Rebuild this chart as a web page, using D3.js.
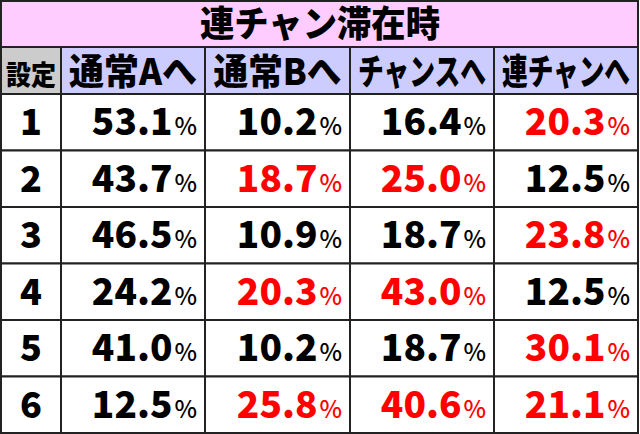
<!DOCTYPE html>
<html><head><meta charset="utf-8">
<script src="https://cdn.jsdelivr.net/npm/d3@7"></script>
<style>body{margin:0;background:#fff}</style>
</head><body>
<svg id="chart" width="640" height="434"></svg>
<script>
var title = "連チャン滞在時";
var headers = ["設定", "通常Aへ", "通常Bへ", "チャンスへ", "連チャンへ"];
var settings = ["1", "2", "3", "4", "5", "6"];
var toA = [53.1, 43.7, 46.5, 24.2, 41.0, 12.5];
var toB = [10.2, 18.7, 10.9, 20.3, 10.2, 25.8];
var toChance = [16.4, 25.0, 18.7, 43.0, 18.7, 40.6];
var toRen = [20.3, 12.5, 23.8, 12.5, 30.1, 21.1];
// which cells are printed in red
var redCells = [
  [0, 0, 0, 1], [0, 1, 1, 0], [0, 0, 0, 1],
  [0, 1, 1, 0], [0, 0, 0, 1], [0, 1, 1, 1]
];

var svg = d3.select("#chart");
var font = "'Noto Sans CJK JP', sans-serif";
var colEdges = [1, 61, 205, 350, 494, 638];
var x = d3.scaleOrdinal().domain(d3.range(5)).range(colEdges.slice(0, 5));
var y = d3.scaleBand().domain(settings).range([94, 433]);
var series = [toA, toB, toChance, toRen];

// title row
svg.append("rect").attr("x", 1).attr("y", 1).attr("width", 637).attr("height", 46)
  .attr("fill", "#ffccff").attr("stroke", "#222").attr("stroke-width", 2);
svg.append("text").attr("x", 320).attr("y", 37).attr("text-anchor", "middle")
  .attr("font-family", font).attr("font-weight", 900).attr("font-size", 36)
  .attr("textLength", 240).attr("lengthAdjust", "spacingAndGlyphs").text(title);

// header row
headers.forEach(function(h, i) {
  var w = colEdges[i + 1] - colEdges[i];
  svg.append("rect").attr("x", x(i)).attr("y", 47).attr("width", w).attr("height", 47)
    .attr("fill", i == 0 ? "#cccccc" : "#ccccff").attr("stroke", "#222").attr("stroke-width", 2);
  svg.append("text").attr("x", x(i) + w / 2).attr("y", 85).attr("text-anchor", "middle")
    .attr("font-family", font).attr("font-weight", 900)
    .attr("font-size", i == 0 ? 27 : 36)
    .attr("textLength", i == 0 ? 50 : 128).attr("lengthAdjust", "spacingAndGlyphs").text(h);
});

// data rows
settings.forEach(function(s, r) {
  svg.append("rect").attr("x", x(0)).attr("y", y(s)).attr("width", 60).attr("height", y.bandwidth())
    .attr("fill", "#fff").attr("stroke", "#222").attr("stroke-width", 2);
  svg.append("text").attr("x", 31).attr("y", y(s) + y.bandwidth() / 2 + 13).attr("text-anchor", "middle")
    .attr("font-family", font).attr("font-weight", 900).attr("font-size", 36).text(s);
  series.forEach(function(vals, c) {
    var left = x(c + 1), w = colEdges[c + 2] - left;
    svg.append("rect").attr("x", left).attr("y", y(s)).attr("width", w).attr("height", y.bandwidth())
      .attr("fill", "#fff").attr("stroke", "#222").attr("stroke-width", 2);
    var t = svg.append("text").attr("x", left + w - 8).attr("y", y(s) + y.bandwidth() / 2 + 13)
      .attr("text-anchor", "end").attr("font-family", font)
      .attr("fill", redCells[r][c] ? "#ff0000" : "#000");
    t.append("tspan").attr("font-weight", 900).attr("font-size", 37).text(vals[r].toFixed(1));
    t.append("tspan").attr("font-weight", 500).attr("font-size", 24).attr("dx", 2).text("%");
  });
});
</script>
</body></html>
